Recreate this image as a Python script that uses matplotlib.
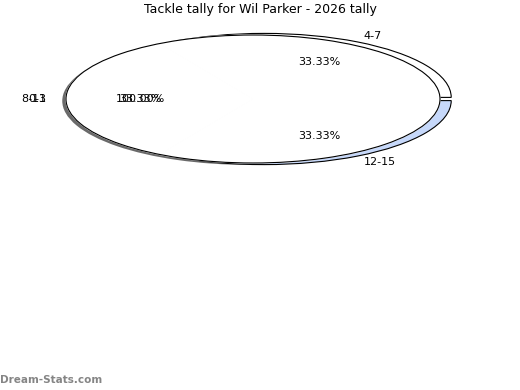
import matplotlib.pyplot as plt
from matplotlib.transforms import offset_copy

brackets = ["4-7", "8-11", "12-15"]
tackles = [1, 1, 1]
hidden_label = "0-3"
hidden_pct = "100.00%"
title = "Tackle tally for Wil Parker - 2026 tally"

fig = plt.figure(figsize=(5.2, 3.9), dpi=100)
ax = fig.add_axes([0, 0, 1, 1])

# shadow under the main pie
ax.pie([1], colors=["#6a6a6a"], center=(-0.02, -0.03), startangle=0,
       wedgeprops=dict(linewidth=0))

# exploded slices peek out on the right
rest_top = sum(tackles) - tackles[0]
rest_bot = sum(tackles) - tackles[2]
top, _ = ax.pie([tackles[0], rest_top], colors=["white", "none"],
                center=(0.06, 0.025), startangle=0,
                wedgeprops=dict(edgecolor="black", linewidth=0.8))
bot, _ = ax.pie([rest_bot, tackles[2]], colors=["none", "#c6d8fa"],
                center=(0.06, -0.025), startangle=0,
                wedgeprops=dict(edgecolor="black", linewidth=0.8))
top[1].set_edgecolor("none")
bot[0].set_edgecolor("none")

# main pie
wedges, texts, pcts = ax.pie(tackles, labels=brackets, colors=["white"] * 3,
                             autopct="%.2f%%", startangle=0,
                             labeldistance=1.13, pctdistance=0.66,
                             wedgeprops=dict(edgecolor="white", linewidth=1.0),
                             textprops=dict(fontsize=8))
ax.pie([1], colors=["none"], startangle=0,
       wedgeprops=dict(edgecolor="black", linewidth=0.8))

# overlapping texts on the left
x, y = texts[1].get_position()
extra1 = ax.text(x, y, hidden_label, ha="right", va="center", fontsize=8)
x, y = pcts[1].get_position()
extra2 = ax.text(x, y, hidden_pct, ha="center", va="center", fontsize=8)

shift = offset_copy(ax.transData, fig=fig, x=5, y=0, units="dots")
for t in list(texts) + list(pcts) + [extra1, extra2]:
    t.set_transform(shift)
shift_left = offset_copy(ax.transData, fig=fig, x=11, y=0, units="dots")
for t in [pcts[1], extra2]:
    t.set_transform(shift_left)

ax.set_aspect("auto")
ax.set_xlim(-253 / 187, (520 - 253) / 187)
ax.set_ylim(-(390 - 99) / 64, 99 / 64)
ax.axis("off")

fig.text(0.5, 0.975, title, ha="center", va="center", fontsize=9)
fig.text(0.0, 0.025, "Dream-Stats.com", ha="left", va="center",
         fontsize=7.5, fontweight="bold", color="#858585")

fig.savefig("out.png", dpi=100)
